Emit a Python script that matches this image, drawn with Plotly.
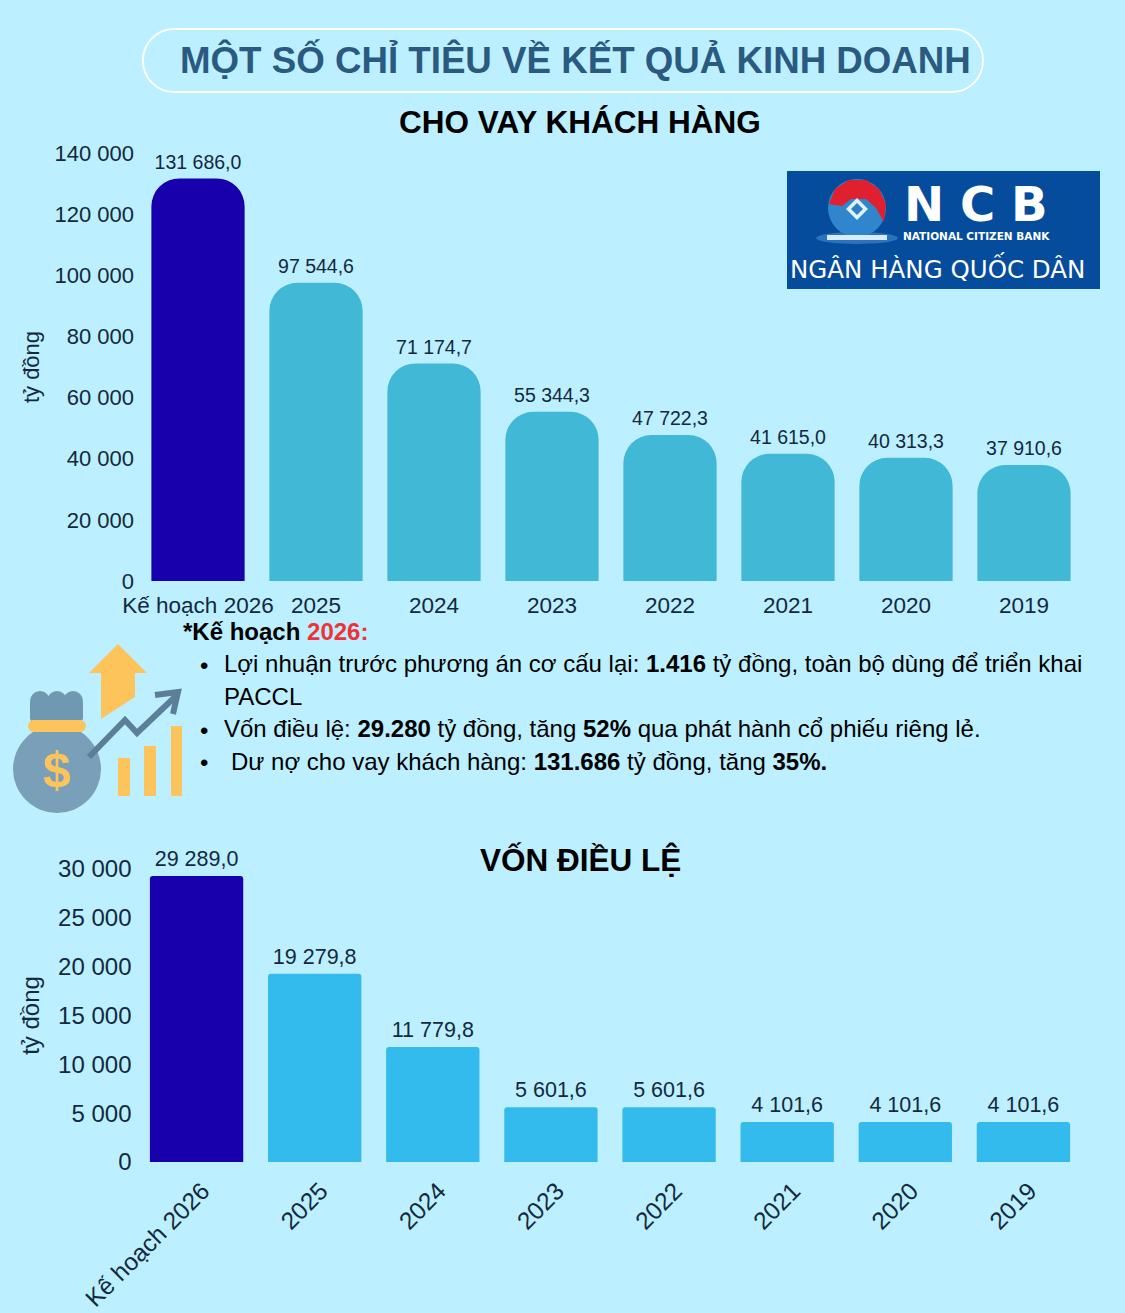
import plotly.graph_objects as go

W, H = 1125, 1313
categories = ["Kế hoạch 2026", "2025", "2024", "2023", "2022", "2021", "2020", "2019"]
loan_values = [131686.0, 97544.6, 71174.7, 55344.3, 47722.3, 41615.0, 40313.3, 37910.6]
capital_values = [29289.0, 19279.8, 11779.8, 5601.6, 5601.6, 4101.6, 4101.6, 4101.6]
loan_ticks = [0, 20000, 40000, 60000, 80000, 100000, 120000, 140000]
capital_ticks = [0, 5000, 10000, 15000, 20000, 25000, 30000]

BG = "#bcefff"
INK = "#13293d"
DARK = "#1800ad"
CLEAR = "rgba(0,0,0,0)"


def px(x):
    return x / W


def py(y):
    return 1 - y / H


def path(points, close=True):
    s = "M " + " L ".join(f"{px(x):.5f},{py(y):.5f}" for x, y in points)
    return s + (" Z" if close else "")


def pill(x0, y0, x1, y1, r):
    k = 0.55 * r
    c = lambda x, y: f"{px(x):.5f},{py(y):.5f}"
    return (f"M {c(x0 + r, y0)} L {c(x1 - r, y0)} C {c(x1 - r + k, y0)} {c(x1, y0 + r - k)} {c(x1, y0 + r)} "
            f"L {c(x1, y1 - r)} C {c(x1, y1 - r + k)} {c(x1 - r + k, y1)} {c(x1 - r, y1)} "
            f"L {c(x0 + r, y1)} C {c(x0 + r - k, y1)} {c(x0, y1 - r + k)} {c(x0, y1 - r)} "
            f"L {c(x0, y0 + r)} C {c(x0, y0 + r - k)} {c(x0 + r - k, y0)} {c(x0 + r, y0)} Z")


def ellipse(cx, cy, rx, ry, fill):
    return dict(type="circle", xref="paper", yref="paper", x0=px(cx - rx), x1=px(cx + rx),
                y0=py(cy + ry), y1=py(cy - ry), fillcolor=fill, line=dict(width=0))


def rect(x0, y0, x1, y1, fill):
    return dict(type="rect", xref="paper", yref="paper", x0=px(x0), x1=px(x1), y0=py(y1), y1=py(y0),
                fillcolor=fill, line=dict(width=0))


def poly(points, fill):
    return dict(type="path", xref="paper", yref="paper", path=path(points), fillcolor=fill, line=dict(width=0))


def stroke(points, color, width):
    return dict(type="path", xref="paper", yref="paper", path=path(points, False),
                line=dict(color=color, width=width))


def text(x, y, s, size, color="#000000", anchor="left", family="Liberation Sans"):
    return dict(xref="paper", yref="paper", x=px(x), y=py(y), text=s, showarrow=False, xanchor=anchor,
                yanchor="middle", align=anchor, font=dict(size=size, color=color, family=family))


fig = go.Figure()
fig.add_trace(go.Bar(x=categories, y=loan_values, xaxis="x", yaxis="y", width=0.79,
                     marker=dict(color=[DARK] + ["#41b8d5"] * 7, cornerradius=28, line=dict(width=0)),
                     showlegend=False))
fig.add_trace(go.Bar(x=categories, y=capital_values, xaxis="x2", yaxis="y2", width=0.79,
                     marker=dict(color=[DARK] + ["#33bbee"] * 7, cornerradius=3, line=dict(width=0)),
                     showlegend=False))
fig.add_trace(go.Scatter(x=categories, y=loan_values, xaxis="x", yaxis="y", mode="markers+text",
                         marker=dict(size=6, opacity=0), texttemplate="%{y:,.1f}", textposition="top center",
                         textfont=dict(size=19.5, color=INK), cliponaxis=False, showlegend=False))
fig.add_trace(go.Scatter(x=categories, y=capital_values, xaxis="x2", yaxis="y2", mode="markers+text",
                         marker=dict(size=6, opacity=0), texttemplate="%{y:,.1f}", textposition="top center",
                         textfont=dict(size=21.5, color=INK), cliponaxis=False, showlegend=False))

shapes = [
    dict(type="path", xref="paper", yref="paper", path=pill(143, 29, 983, 92, 31),
         line=dict(color="#ffffff", width=2)),
    # NCB logo
    rect(787, 171, 1100, 289, "#054d9c"),
    ellipse(857, 238, 41, 6, "#2a73bd"),
    ellipse(857, 208, 29, 29, "#2f86cc"),
    dict(type="path", xref="paper", yref="paper",
         path=path([(829, 204), (835, 189), (849, 180), (866, 180), (879, 189), (886, 204), (884, 222),
                    (876, 208), (866, 199), (851, 199), (842, 206)]),
         fillcolor="#e0202e", line=dict(width=0)),
    poly([(857, 198), (868, 209), (857, 220), (846, 209)], "#dff2ff"),
    poly([(857, 203), (863, 209), (857, 215), (851, 209)], "#2f7fc4"),
    rect(827, 235, 887, 240, "#d8ecfa"),
    # money bag
    ellipse(57, 769, 44, 44, "#7aa0b9"),
    dict(type="path", xref="paper", yref="paper", path=pill(30, 700, 83, 722, 4), fillcolor="#6f98b2",
         line=dict(width=0)),
    ellipse(40, 701, 10, 10, "#6f98b2"), ellipse(57, 701, 10, 10, "#6f98b2"), ellipse(73, 701, 10, 10, "#6f98b2"),
    dict(type="path", xref="paper", yref="paper", path=pill(28, 720, 86, 732, 6), fillcolor="#fdc45c",
         line=dict(width=0)),
    # growth icon
    poly([(118, 644), (147, 673), (135, 673), (135, 697), (101, 719), (101, 673), (89, 673)], "#fdc45c"),
    rect(118, 758, 130, 796, "#fdc45c"),
    rect(144, 746, 156, 796, "#fdc45c"),
    rect(171, 726, 182, 796, "#fdc45c"),
    stroke([(89, 757), (125, 720), (137, 733), (177, 695)], "#5b7f99", 6),
    stroke([(155, 695), (178, 692), (173, 714)], "#5b7f99", 6),
]

annotations = [
    text(575, 60, "<b>MỘT SỐ CHỈ TIÊU VỀ KẾT QUẢ KINH DOANH</b>", 36.7, "#2a5a7f", "center"),
    text(580, 122, "<b>CHO VAY KHÁCH HÀNG</b>", 31.5, "#000000", "center"),
    text(580, 860, "<b>VỐN ĐIỀU LỆ</b>", 31.5, "#000000", "center"),
    text(902, 204, "<b>N\u2004C\u2004B</b>", 48, "#ffffff", "left", "DejaVu Sans"),
    text(901, 236, "<b>NATIONAL CITIZEN BANK</b>", 10.5, "#ffffff", "left", "DejaVu Sans"),
    text(937, 268, "NGÂN HÀNG QUỐC DÂN", 24.5, "#ffffff", "center", "DejaVu Sans"),
    text(57, 770, "<b>$</b>", 50, "#fdc45c", "center"),
    text(181, 632, '<b>*Kế hoạch <span style="color:#ee3338">2026:</span></b>', 24),
    text(198, 665, "•", 24),
    text(222, 663, "Lợi nhuận trước phương án cơ cấu lại: <b>1.416</b> tỷ đồng, toàn bộ dùng để triển khai", 24),
    text(222, 696, "PACCL", 24),
    text(198, 730, "•", 24),
    text(222, 728, "Vốn điều lệ: <b>29.280</b> tỷ đồng, tăng <b>52%</b> qua phát hành cổ phiếu riêng lẻ.", 24),
    text(198, 762, "•", 24),
    text(229, 761, "Dư nợ cho vay khách hàng: <b>131.686</b> tỷ đồng, tăng <b>35%.</b>", 24),
]

common_x = dict(type="category", showgrid=False, showline=False, zeroline=False, ticks="", automargin=False)
common_y = dict(showgrid=False, showline=False, zeroline=False, tickformat=",d", ticks="", automargin=False)

fig.update_layout(
    width=W, height=H, autosize=False, margin=dict(l=0, r=0, t=0, b=0),
    paper_bgcolor=BG, plot_bgcolor=CLEAR, separators=", ",
    font=dict(family="Liberation Sans", color=INK),
    bargap=0.21, showlegend=False, shapes=shapes, annotations=annotations,
    xaxis=dict(common_x, domain=[px(139), px(1083)], anchor="y", tickangle=0, ticklabelstandoff=8,
               tickfont=dict(size=22.5, color=INK), categoryorder="array", categoryarray=categories),
    yaxis=dict(common_y, domain=[py(581), py(153)], anchor="x", range=[0, 140000], tickvals=loan_ticks,
               ticklabelstandoff=4, tickfont=dict(size=22, color=INK),
               title=dict(text="tỷ đồng", font=dict(size=22, color=INK), standoff=8)),
    xaxis2=dict(common_x, domain=[px(137.5), px(1082.5)], anchor="y2", tickangle=-45, ticklabelstandoff=9,
                ticklabelshift=6, tickfont=dict(size=24.3, color=INK),
                categoryorder="array", categoryarray=categories),
    yaxis2=dict(common_y, domain=[py(1162), py(869)], anchor="x2", range=[0, 30000], tickvals=capital_ticks,
                ticklabelstandoff=5, tickfont=dict(size=24, color=INK),
                title=dict(text="tỷ đồng", font=dict(size=24, color=INK), standoff=11)),
)
fig.write_html("out.html", config={"displayModeBar": False},
               post_script="document.body.style.margin='0';document.body.style.background='#bcefff';")
